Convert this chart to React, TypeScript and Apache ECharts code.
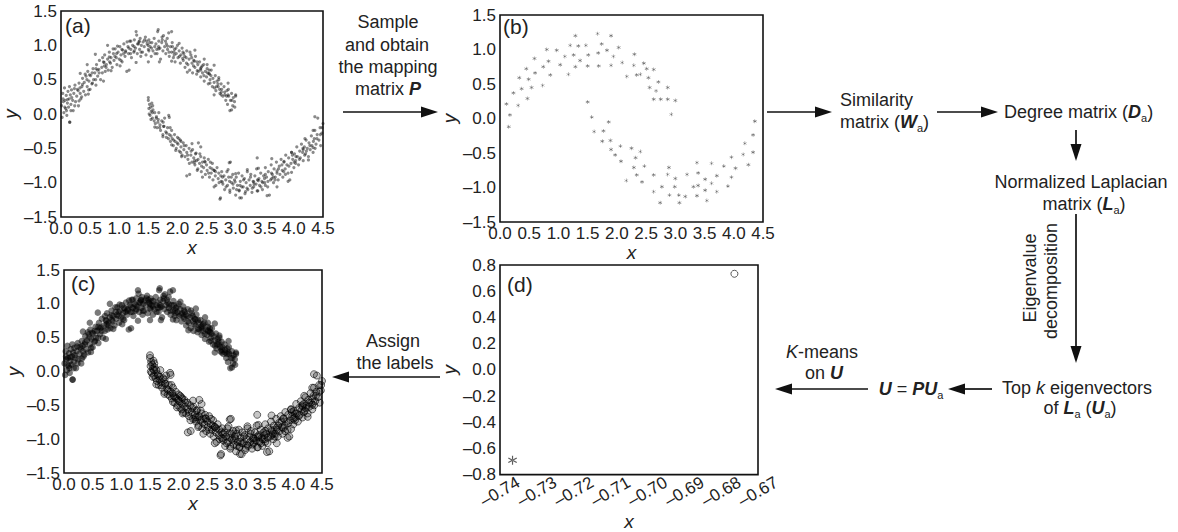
import React, { useEffect, useRef } from "react";
import * as echarts from "echarts";

// ---------------- DATA ----------------
// Full two-moons dataset (panels a and c), upper moon
const UPPER_MOON: number[][] = [
  [0.01,0.12],[0.02,-0.05],[0.03,0.3],[0.04,0.18],[0.05,0.02],[0.06,0.38],[0.07,0.2],[0.08,0.08],[0.09,0.27],[0.1,-0.02],
  [0.11,0.16],[0.12,0.33],[0.13,0.1],[0.14,0.22],[0.15,-0.12],[0.16,0.28],[0.17,0.14],[0.18,0.35],[0.2,0.2],[0.21,0.05],
  [0.22,0.3],[0.24,0.42],[0.25,0.18],[0.27,0.26],[0.28,0.36],[0.3,0.12],[0.31,0.45],[0.33,0.3],[0.34,0.22],[0.36,0.4],
  [0.37,0.52],[0.39,0.33],[0.4,0.46],[0.42,0.28],[0.43,0.55],[0.45,0.4],[0.46,0.62],[0.48,0.48],[0.5,0.36],[0.51,0.56],
  [0.53,0.44],[0.55,0.66],[0.56,0.5],[0.58,0.6],[0.6,0.42],[0.61,0.72],[0.63,0.55],[0.65,0.65],[0.66,0.78],[0.68,0.5],
  [0.7,0.68],[0.71,0.6],[0.73,0.76],[0.75,0.86],[0.76,0.62],[0.78,0.72],[0.8,0.8],[0.81,0.64],[0.83,0.9],[0.85,0.74],
  [0.86,0.82],[0.88,0.68],[0.9,0.88],[0.91,0.78],[0.93,0.95],[0.95,0.82],[0.96,0.72],[0.98,0.9],[1.0,0.8],[1.01,0.98],
  [1.03,0.86],[1.05,0.76],[1.06,0.93],[1.08,1.02],[1.1,0.84],[1.11,0.92],[1.13,0.62],[1.15,0.98],[1.16,0.88],[1.18,1.06],
  [1.2,0.94],[1.21,0.82],[1.23,1.0],[1.25,0.9],[1.26,1.08],[1.28,0.96],[1.3,1.15],[1.31,0.88],[1.33,1.02],[1.35,0.94],
  [1.36,1.1],[1.38,1.0],[1.4,0.9],[1.41,1.05],[1.43,0.98],[1.45,1.12],[1.46,0.86],[1.48,1.02],[1.5,0.94],[1.51,1.08],
  [1.53,0.98],[1.55,0.84],[1.56,1.04],[1.58,0.92],[1.6,1.1],[1.61,0.98],[1.63,1.02],[1.65,0.88],[1.66,1.2],[1.68,1.06],
  [1.7,0.96],[1.71,0.8],[1.73,1.04],[1.75,0.92],[1.76,1.14],[1.78,0.98],[1.8,0.88],[1.81,1.02],[1.83,0.94],[1.85,1.18],
  [1.86,0.84],[1.88,0.98],[1.9,0.9],[1.91,1.04],[1.93,0.82],[1.95,0.94],[1.96,0.76],[1.98,0.88],[2.0,1.0],[2.01,0.82],
  [2.03,0.92],[2.05,0.74],[2.06,0.86],[2.08,0.96],[2.1,0.78],[2.11,0.88],[2.13,0.68],[2.15,0.82],[2.16,0.92],[2.18,0.72],
  [2.2,0.8],[2.21,0.64],[2.23,0.86],[2.25,0.74],[2.26,0.6],[2.28,0.78],[2.3,0.68],[2.31,0.84],[2.33,0.58],[2.35,0.72],
  [2.36,0.62],[2.38,0.76],[2.4,0.54],[2.41,0.68],[2.43,0.6],[2.45,0.72],[2.46,0.48],[2.48,0.62],[2.5,0.54],[2.51,0.66],
  [2.53,0.44],[2.55,0.58],[2.56,0.5],[2.58,0.64],[2.6,0.4],[2.61,0.52],[2.63,0.46],[2.65,0.56],[2.66,0.34],[2.68,0.48],
  [2.7,0.4],[2.71,0.5],[2.73,0.3],[2.75,0.44],[2.76,0.36],[2.78,0.26],[2.8,0.4],[2.81,0.32],[2.83,0.2],[2.85,0.34],
  [2.86,0.14],[2.88,0.26],[2.9,0.05],[2.91,0.2],[2.93,0.3],[2.95,0.12],[2.96,0.24],[2.98,0.18],[3.0,0.28],
  [0.035,0.22],[0.095,0.05],[0.145,0.4],[0.235,0.12],[0.295,0.34],[0.355,0.25],[0.415,0.58],[0.475,0.35],[0.535,0.6],[0.595,0.5],
  [0.655,0.6],[0.715,0.82],[0.775,0.68],[0.835,0.76],[0.895,0.95],[0.955,0.88],[1.015,0.7],[1.075,0.88],[1.135,1.05],[1.195,0.88],
  [1.255,0.98],[1.315,1.02],[1.375,0.9],[1.435,1.08],[1.495,1.0],[1.555,0.96],[1.615,0.88],[1.675,0.98],[1.735,1.12],[1.795,1.06],
  [1.855,0.9],[1.915,0.98],[1.975,0.96],[2.035,0.84],[2.095,0.9],[2.155,0.74],[2.215,0.9],[2.275,0.7],[2.335,0.76],[2.395,0.66],
  [2.455,0.56],[2.515,0.6],[2.575,0.56],[2.635,0.38],[2.695,0.44],[2.755,0.32],[2.815,0.28],[2.875,0.36],[2.935,0.2],[2.985,0.1],
  [0.065,0.1],[0.185,0.24],[0.325,0.38],[0.445,0.5],[0.625,0.64],[0.745,0.7],[0.925,0.84],[1.045,0.94],[1.165,0.96],[1.345,1.06],
  [1.525,1.04],[1.645,0.94],[1.825,1.1],[1.945,0.86],[2.125,0.84],[2.245,0.82],[2.425,0.7],[2.545,0.64],[2.725,0.36],[2.845,0.26]
];

// Full two-moons dataset, lower moon
const LOWER_MOON: number[][] = [
  [1.5,0.2],[1.51,0.08],[1.52,0.14],[1.53,-0.02],[1.54,0.1],[1.55,0.04],[1.56,0.16],[1.57,-0.06],[1.58,0.06],[1.6,-0.1],
  [1.61,0.02],[1.62,-0.14],[1.64,-0.04],[1.65,-0.2],[1.67,-0.08],[1.68,0.02],[1.7,-0.16],[1.71,-0.24],[1.73,-0.1],[1.75,-0.3],
  [1.76,-0.18],[1.78,-0.06],[1.8,-0.26],[1.81,-0.34],[1.83,-0.2],[1.85,-0.02],[1.86,-0.3],[1.88,-0.4],[1.9,-0.24],[1.91,-0.36],
  [1.93,-0.46],[1.95,-0.3],[1.96,-0.4],[1.98,-0.5],[2.0,-0.34],[2.01,-0.44],[2.03,-0.54],[2.05,-0.38],[2.06,-0.48],[2.08,-0.6],
  [2.1,-0.42],[2.11,-0.52],[2.13,-0.62],[2.15,-0.46],[2.16,-0.56],[2.18,-0.66],[2.2,-0.5],[2.21,-0.88],[2.23,-0.6],[2.25,-0.7],
  [2.26,-0.52],[2.28,-0.64],[2.3,-0.74],[2.31,-0.58],[2.33,-0.68],[2.35,-0.8],[2.36,-0.42],[2.38,-0.72],[2.4,-0.62],[2.41,-0.84],
  [2.43,-0.7],[2.45,-0.78],[2.46,-0.64],[2.48,-0.88],[2.5,-0.74],[2.51,-0.82],[2.53,-0.66],[2.55,-0.92],[2.56,-0.78],[2.58,-0.86],
  [2.6,-0.72],[2.61,-0.96],[2.63,-0.82],[2.65,-0.9],[2.66,-1.04],[2.68,-0.78],[2.7,-0.94],[2.71,-0.86],[2.73,-1.24],[2.75,-0.98],
  [2.76,-0.84],[2.78,-1.02],[2.8,-0.9],[2.81,-1.1],[2.83,-0.96],[2.85,-0.84],[2.86,-1.04],[2.88,-0.92],[2.9,-1.14],[2.91,-0.7],
  [2.93,-1.0],[2.95,-0.88],[2.96,-1.08],[2.98,-0.96],[3.0,-1.18],[3.01,-0.92],[3.03,-1.04],[3.05,-0.86],[3.06,-1.12],[3.08,-0.98],
  [3.1,-1.22],[3.11,-0.9],[3.13,-1.06],[3.15,-0.94],[3.16,-1.16],[3.18,-1.0],[3.2,-0.84],[3.21,-1.1],[3.23,-0.96],[3.25,-1.04],
  [3.26,-0.88],[3.28,-1.14],[3.3,-0.98],[3.31,-1.06],[3.33,-0.9],[3.35,-1.02],[3.36,-0.8],[3.38,-1.12],[3.4,-0.94],[3.41,-1.04],
  [3.43,-0.86],[3.45,-0.98],[3.46,-1.1],[3.48,-0.9],[3.5,-1.0],[3.51,-0.78],[3.53,-0.92],[3.55,-1.06],[3.56,-0.84],[3.58,-1.18],
  [3.6,-0.96],[3.61,-0.74],[3.63,-0.88],[3.65,-1.0],[3.66,-0.8],[3.68,-0.92],[3.7,-0.7],[3.71,-0.86],[3.73,-0.96],[3.75,-0.76],
  [3.76,-0.88],[3.78,-0.66],[3.8,-0.82],[3.81,-0.92],[3.83,-0.7],[3.85,-0.8],[3.86,-0.6],[3.88,-0.74],[3.9,-0.86],[3.91,-0.64],
  [3.93,-0.96],[3.95,-0.72],[3.96,-0.56],[3.98,-0.66],[4.0,-0.78],[4.01,-0.58],[4.03,-0.68],[4.05,-0.48],[4.06,-0.62],[4.08,-0.74],
  [4.1,-0.54],[4.11,-0.64],[4.13,-0.44],[4.15,-0.56],[4.16,-0.68],[4.18,-0.48],[4.2,-0.58],[4.21,-0.38],[4.23,-0.5],[4.25,-0.62],
  [4.26,-0.42],[4.28,-0.52],[4.3,-0.32],[4.31,-0.46],[4.33,-0.56],[4.35,-0.36],[4.36,-0.24],[4.38,-0.44],[4.4,-0.3],[4.41,-0.06],
  [4.43,-0.38],[4.45,-0.2],[4.46,-0.46],[4.48,-0.28],[4.5,-0.14],
  [1.515,0.0],[1.575,0.12],[1.635,-0.06],[1.695,-0.2],[1.755,-0.12],[1.815,-0.28],[1.875,-0.2],[1.935,-0.38],[1.995,-0.42],[2.055,-0.56],
  [2.115,-0.46],[2.175,-0.6],[2.235,-0.54],[2.295,-0.68],[2.355,-0.66],[2.415,-0.76],[2.475,-0.7],[2.535,-0.86],[2.595,-0.8],[2.655,-0.84],
  [2.715,-1.0],[2.775,-0.92],[2.835,-1.06],[2.895,-0.98],[2.955,-1.02],[3.015,-1.1],[3.075,-1.04],[3.135,-0.96],[3.195,-1.08],[3.255,-0.92],
  [3.315,-1.02],[3.375,-0.96],[3.435,-1.06],[3.495,-0.94],[3.555,-0.98],[3.615,-0.86],[3.675,-0.96],[3.735,-0.8],[3.795,-0.74],[3.855,-0.88],
  [3.915,-0.76],[3.975,-0.6],[4.035,-0.62],[4.095,-0.66],[4.155,-0.5],[4.215,-0.54],[4.275,-0.46],[4.335,-0.4],[4.395,-0.36],[4.455,-0.3],
  [1.545,-0.08],[1.665,-0.12],[1.845,-0.36],[2.025,-0.36],[2.205,-0.72],[2.385,-0.58],[2.565,-0.7],[2.745,-0.9],[2.925,-0.92],[3.105,-1.06],
  [3.285,-1.08],[3.465,-1.0],[3.645,-0.92],[3.825,-0.84],[4.005,-0.7],[4.185,-0.6],[4.365,-0.5],[4.485,-0.2]
];

// Sampled points (panel b), upper moon
const SAMPLE_UPPER: number[][] = [
  [0.11,0.21],[0.17,0.05],[0.15,-0.12],[0.23,0.37],[0.31,0.19],[0.33,0.59],[0.37,0.43],[0.45,0.72],[0.47,0.29],[0.49,0.57],
  [0.54,0.45],[0.59,0.87],[0.6,0.66],[0.73,0.48],[0.74,0.75],[0.83,0.83],[0.8,1.0],[0.86,0.63],[0.97,0.99],[1.03,0.78],
  [1.11,0.9],[1.17,0.64],[1.2,1.06],[1.26,0.92],[1.29,0.75],[1.29,1.2],[1.34,1.05],[1.37,0.84],[1.47,1.06],[1.5,0.76],
  [1.51,0.92],[1.67,1.23],[1.68,0.95],[1.69,0.76],[1.74,1.08],[1.83,0.99],[1.9,1.2],[1.9,0.77],[1.94,0.9],[2.03,1.03],
  [2.09,0.81],[2.17,0.61],[2.29,0.77],[2.3,0.93],[2.34,0.63],[2.4,0.64],[2.46,0.8],[2.51,0.72],[2.54,0.59],[2.56,0.45],
  [2.63,0.71],[2.63,0.28],[2.67,0.4],[2.71,0.53],[2.75,0.28],[2.87,0.45],[2.87,0.28],[2.93,0.06],[3.0,0.26]
];

// Sampled points (panel b), lower moon
const SAMPLE_LOWER: number[][] = [
  [1.5,0.24],[1.57,0.02],[1.61,-0.19],[1.77,-0.18],[1.75,-0.33],[1.86,-0.05],[1.89,-0.32],[1.9,-0.45],[1.97,-0.53],[2.06,-0.4],
  [2.07,-0.62],[2.16,-0.9],[2.25,-0.43],[2.29,-0.71],[2.32,-0.57],[2.34,-0.82],[2.4,-0.48],[2.43,-0.92],[2.47,-0.69],[2.63,-0.82],
  [2.63,-1.06],[2.74,-1.22],[2.77,-0.99],[2.87,-0.81],[2.89,-0.71],[2.9,-1.11],[2.99,-0.99],[3.0,-0.87],[3.06,-1.11],[3.07,-1.22],
  [3.17,-1.13],[3.2,-0.81],[3.31,-0.99],[3.37,-1.12],[3.37,-0.64],[3.39,-0.79],[3.39,-0.97],[3.51,-0.88],[3.51,-1.04],[3.54,-1.19],
  [3.62,-0.65],[3.62,-0.94],[3.71,-0.83],[3.71,-1.06],[3.83,-0.69],[3.9,-0.98],[3.96,-0.56],[3.96,-0.85],[4.03,-0.72],[4.16,-0.52],
  [4.19,-0.36],[4.25,-0.67],[4.33,-0.49],[4.33,-0.24],[4.36,-0.04]
];

// Spectral embedding (panel d): the two cluster points
const EMBED_CLUSTER_1: number[][] = [[-0.7366, -0.69]];
const EMBED_CLUSTER_2: number[][] = [[-0.6764, 0.733]];

// Axis ranges / ticks
const MOON_X = { min: 0, max: 4.5, interval: 0.5 };
const MOON_Y = { min: -1.5, max: 1.5, interval: 0.5 };
const EMB_X = { min: -0.74, max: -0.67, interval: 0.01 };
const EMB_Y = { min: -0.8, max: 0.8, interval: 0.2 };

// ---------------- STYLE ----------------
const FF = '"Liberation Sans", Arial, Helvetica, sans-serif';
const INK = "#222";
const DASH = "\u2013";

const fmt = (d: number) => (v: number) => {
  const r = Math.round(v * Math.pow(10, d)) / Math.pow(10, d);
  return (r < 0 ? DASH : "") + Math.abs(r).toFixed(d);
};

// filled six-armed asterisk (closed sub-paths only)
const ASTER =
  "path://M4.4 0L5.6 0L5.6 10L4.4 10Z" +
  "M0.37 3.02L9.03 8.02L9.63 6.98L0.97 1.98Z" +
  "M0.97 8.02L9.63 3.02L9.03 1.98L0.37 6.98Z";

const HIDE = { show: false };

function xAxisCfg(gridIndex: number, rng: any, dec: number, extra: any = {}) {
  return {
    type: "value",
    gridIndex,
    position: "bottom",
    ...rng,
    name: "x",
    nameLocation: "middle",
    nameGap: 8,
    nameTextStyle: { fontFamily: FF, fontStyle: "italic", fontSize: 19, color: INK },
    axisLine: { show: false, onZero: false },
    axisTick: HIDE,
    minorTick: HIDE,
    splitLine: HIDE,
    minorSplitLine: HIDE,
    splitArea: HIDE,
    axisPointer: HIDE,
    axisLabel: { formatter: fmt(dec), fontFamily: FF, fontSize: 17, color: INK, margin: 3, showMinLabel: true, showMaxLabel: true },
    ...extra,
  };
}
function yAxisCfg(gridIndex: number, rng: any, dec: number) {
  return {
    type: "value",
    gridIndex,
    position: "left",
    ...rng,
    name: "y",
    nameLocation: "middle",
    nameRotate: 90,
    nameGap: 35,
    nameTextStyle: { fontFamily: FF, fontStyle: "italic", fontSize: 19, color: INK },
    axisLine: { show: false, onZero: false },
    axisTick: HIDE,
    minorTick: HIDE,
    splitLine: HIDE,
    minorSplitLine: HIDE,
    splitArea: HIDE,
    axisPointer: HIDE,
    axisLabel: { formatter: fmt(dec), fontFamily: FF, fontSize: 17, color: INK, margin: 4, showMinLabel: true, showMaxLabel: true },
  };
}

const RICH: any = {
  bi: { fontFamily: FF, fontSize: 18, fontWeight: "bold", fontStyle: "italic", fill: INK, lineHeight: 22 },
  it: { fontFamily: FF, fontSize: 18, fontStyle: "italic", fill: INK, lineHeight: 22 },
  sub: { fontFamily: FF, fontSize: 11, fill: INK, verticalAlign: "bottom", lineHeight: 10 },
};

function txt(x: number, y: number, text: string, align = "center", extra: any = {}) {
  return {
    type: "text",
    x,
    y,
    silent: true,
    ...extra,
    style: {
      text,
      fill: INK,
      fontFamily: FF,
      fontSize: 18,
      lineHeight: 22,
      align,
      verticalAlign: "middle",
      rich: RICH,
    },
  };
}

function arrow(x1: number, y1: number, x2: number, y2: number) {
  const dx = x2 - x1, dy = y2 - y1;
  const L = Math.hypot(dx, dy);
  const ux = dx / L, uy = dy / L;
  const hl = 17, hw = 5.5;
  const bx = x2 - ux * hl, by = y2 - uy * hl;
  const px = -uy, py = ux;
  return [
    { type: "line", silent: true, shape: { x1, y1, x2: bx + ux * 2, y2: by + uy * 2 }, style: { stroke: "#111", lineWidth: 1.7 } },
    {
      type: "polygon",
      silent: true,
      shape: { points: [[x2, y2], [bx + px * hw, by + py * hw], [bx - px * hw, by - py * hw]] },
      style: { fill: "#111" },
    },
  ];
}

function panelLabel(x: number, y: number, t: string) {
  return {
    type: "text",
    x,
    y,
    silent: true,
    style: { text: t, fill: INK, fontFamily: FF, fontSize: 21, align: "left", verticalAlign: "middle" },
  };
}

export default function App() {
  const ref = useRef<HTMLDivElement>(null);
  const refOverlay = useRef<HTMLDivElement>(null);
  useEffect(() => {
    if (!ref.current || !refOverlay.current) return;
    const chart = echarts.init(ref.current, undefined, { renderer: "svg" });
    const overlay = echarts.init(refOverlay.current, undefined, { renderer: "svg" });
    const gridBase = { show: true, borderColor: "#111", borderWidth: 1.6, backgroundColor: "transparent", containLabel: false };
    const option: any = {
      animation: false,
      tooltip: { show: false },
      textStyle: { fontFamily: FF },
      grid: [
        { ...gridBase, left: 61, top: 11, width: 262, height: 206 },
        { ...gridBase, left: 500, top: 15, width: 263, height: 207 },
        { ...gridBase, left: 64, top: 270, width: 258, height: 203 },
        { ...gridBase, left: 500, top: 265, width: 258, height: 215 },
      ],
      xAxis: [
        xAxisCfg(0, MOON_X, 1),
        xAxisCfg(1, MOON_X, 1),
        xAxisCfg(2, MOON_X, 1),
        xAxisCfg(3, EMB_X, 2, {
          nameGap: 34,
          axisLabel: {
            formatter: fmt(2), fontFamily: FF, fontSize: 17, color: INK, rotate: 30,
            align: "center", verticalAlign: "middle", margin: 17, showMinLabel: true, showMaxLabel: true,
          },
        }),
      ],
      yAxis: [yAxisCfg(0, MOON_Y, 1), yAxisCfg(1, MOON_Y, 1), yAxisCfg(2, MOON_Y, 1), yAxisCfg(3, EMB_Y, 1)],
      series: [
        {
          type: "scatter", silent: true, xAxisIndex: 0, yAxisIndex: 0,
          data: [...UPPER_MOON, ...LOWER_MOON, ...SAMPLE_UPPER, ...SAMPLE_LOWER],
          symbolSize: 3.2, itemStyle: { color: "rgba(10,10,10,0.6)" },
        },
        {
          type: "scatter", silent: true, xAxisIndex: 1, yAxisIndex: 1,
          data: [...SAMPLE_UPPER, ...SAMPLE_LOWER],
          symbol: ASTER, symbolSize: 4,
          itemStyle: { color: "#555" },
        },
        {
          type: "scatter", silent: true, xAxisIndex: 2, yAxisIndex: 2,
          data: [...UPPER_MOON, ...SAMPLE_UPPER],
          symbolSize: 6.5, itemStyle: { color: "rgba(0,0,0,0.65)" },
        },
        {
          type: "scatter", silent: true, xAxisIndex: 2, yAxisIndex: 2,
          data: [...LOWER_MOON, ...SAMPLE_LOWER],
          symbolSize: 7, itemStyle: { color: "rgba(0,0,0,0.28)", borderColor: "rgba(0,0,0,0.7)", borderWidth: 1 },
        },
        {
          type: "scatter", silent: true, xAxisIndex: 3, yAxisIndex: 3,
          data: EMBED_CLUSTER_1, symbol: ASTER, symbolSize: 9,
          itemStyle: { color: "#333" },
        },
        {
          type: "scatter", silent: true, xAxisIndex: 3, yAxisIndex: 3,
          data: EMBED_CLUSTER_2, symbol: "circle", symbolSize: 7,
          itemStyle: { color: "transparent", borderColor: "#333", borderWidth: 1 },
        },
      ],
    };
    const overlayOption: any = {
      animation: false,
      graphic: [
        panelLabel(65, 25, "(a)"),
        panelLabel(503, 26, "(b)"),
        panelLabel(71, 283, "(c)"),
        panelLabel(507, 284, "(d)"),
        // Sample -> (b)
        txt(388, 22, "Sample"),
        txt(387, 45, "and obtain"),
        txt(388, 67, "the mapping"),
        txt(388, 89, "matrix {bi|P}"),
        ...arrow(343, 112, 438, 112),
        // (b) -> Similarity
        ...arrow(767, 112, 832, 112),
        txt(840, 100, "Similarity", "left"),
        txt(840, 122, "matrix ({bi|W}{sub|a})", "left"),
        ...arrow(937, 112, 998, 112),
        txt(1004, 112, "Degree matrix ({bi|D}{sub|a})", "left"),
        ...arrow(1076, 130, 1076, 161),
        txt(1081, 182, "Normalized Laplacian"),
        txt(1084, 204, "matrix ({bi|L}{sub|a})"),
        ...arrow(1076, 214, 1076, 363),
        txt(1030, 278, "Eigenvalue", "center", { rotation: Math.PI / 2 }),
        txt(1051, 281, "decomposition", "center", { rotation: Math.PI / 2 }),
        txt(1077, 388, "Top {it|k} eigenvectors"),
        txt(1080, 408, "of {bi|L}{sub|a} ({bi|U}{sub|a})"),
        ...arrow(992, 389, 948, 389),
        txt(911, 389, "{bi|U} = {bi|PU}{sub|a}"),
        ...arrow(868, 389, 775, 389),
        txt(822, 352, "{it|K}-means"),
        txt(824, 373, "on {bi|U}"),
        // (d) -> (c)
        txt(393, 341, "Assign"),
        txt(395, 363, "the labels"),
        ...arrow(440, 377, 332, 377),
      ],
    };
    chart.setOption(option);
    overlay.setOption(overlayOption);
    return () => {
      chart.dispose();
      overlay.dispose();
    };
  }, []);
  return (
    <div style={{ position: "absolute", left: 0, top: 0, width: 1178, height: 532, background: "#fff" }}>
      <div ref={ref} style={{ position: "absolute", left: 0, top: 0, width: 1178, height: 532 }} />
      <div
        ref={refOverlay}
        style={{ position: "absolute", left: 0, top: 0, width: 1178, height: 532, pointerEvents: "none" }}
      />
    </div>
  );
}
